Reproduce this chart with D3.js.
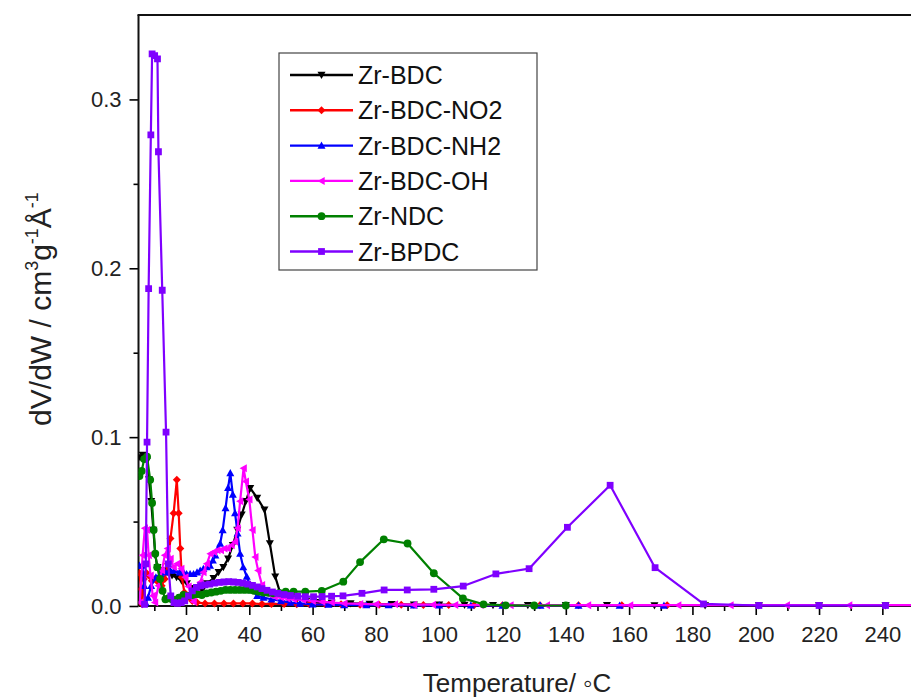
<!DOCTYPE html>
<html>
<head>
<meta charset="utf-8">
<script src="https://cdn.jsdelivr.net/npm/d3@7"></script>
<style>
  html, body { margin: 0; padding: 0; background: #fff; }
  svg { display: block; font-family: Arial, "Liberation Sans", sans-serif; }
</style>
</head>
<body>
<svg id="chart" width="911" height="698"></svg>
<script>
// Series names, colours and marker shapes
const seriesNames = ["Zr-BDC", "Zr-BDC-NO2", "Zr-BDC-NH2", "Zr-BDC-OH", "Zr-NDC", "Zr-BPDC"];
const seriesColors = ["#000000", "#ff0000", "#0000ff", "#ff00ff", "#008000", "#7f00ff"];

// [x, dV/dW] pairs for each series
const zrBDC = [
  [5.5,0.088],[6.3,0.0895],[7.0,0.088],[7.7,0.086],[8.3,0.075],[9.0,0.062],[9.7,0.045],[10.3,0.030],
  [11.0,0.023],[12.2,0.020],[13.2,0.021],[14.3,0.020],[15.6,0.018],[17.0,0.017],[18.6,0.015],[20.3,0.0134],
  [22.4,0.0105],[23.5,0.0085],[24.5,0.0085],[25.6,0.011],[26.6,0.0134],[28.7,0.0164],[30.3,0.020],[31.8,0.023],
  [33.3,0.028],[34.8,0.036],[36.2,0.045],[37.6,0.054],[38.9,0.062],[40.3,0.0698],[42.5,0.064],[44.8,0.057],
  [46.5,0.037],[48.2,0.0174],[49.8,0.0075],[52,0.005],[55,0.004],[58,0.003],[62,0.0022],[66,0.0018],
  [72,0.0015],[78,0.0012],[85,0.001],[92,0.0008],[100,0.0008],[108,0.0006],[117,0.0005],[128,0.0005],
  [140,0.0004],[153,0.0004],[168,0.0003],[184,0.0003],[201,0.0003],[220,0.0003],[241,0.0003]
];
const zrBDCNO2 = [
  [5.3,0.0195],[5.8,0.010],[6.2,0.001],[6.7,0.016],[7.5,0.0195],[8.3,0.018],[9.2,0.015],[10.2,0.016],
  [11.2,0.014],[12.3,0.012],[13.3,0.016],[14.3,0.025],[15.1,0.040],[16.1,0.055],[17.1,0.0747],[17.7,0.055],
  [18.2,0.034],[18.7,0.017],[19.5,0.008],[20.5,0.005],[22,0.003],[23.5,0.002],[26,0.0015],[29,0.0015],
  [32,0.0015],[35,0.0015],[38,0.0015],[41,0.0015],[44,0.0012],[47,0.0012],[51,0.0012],[55,0.001],
  [59,0.001],[64,0.001],[69,0.001],[75,0.0008],[81,0.0008],[88,0.0008],[95,0.0006],[103,0.0006],
  [111,0.0005],[120,0.0005],[131.8,0.0004],[144,0.0004],[157.7,0.0004],[172,0.0004]
];
const zrBDCNH2 = [
  [5.3,0.024],[6.2,0.024],[6.8,0.012],[7.2,0.002],[8.0,0.005],[9.0,0.012],[10.5,0.017],[12.0,0.019],
  [13.5,0.020],[15.0,0.021],[16.5,0.021],[18.0,0.020],[19.2,0.020],[20.2,0.019],[21.3,0.019],[22.4,0.019],
  [23.5,0.020],[24.5,0.021],[25.5,0.022],[26.6,0.023],[27.6,0.024],[28.5,0.027],[29.3,0.030],[30.1,0.034],
  [30.8,0.037],[31.6,0.045],[32.5,0.058],[33.3,0.070],[34.0,0.0787],[34.8,0.066],[35.5,0.055],[36.3,0.043],
  [37.1,0.031],[38.1,0.023],[39.2,0.0174],[40.8,0.0095],[42.5,0.006],[44.5,0.005],[47,0.004],[50,0.003],
  [53,0.002],[56,0.0015],[60,0.001],[65,0.0008],[70,0.0006],[77,0.0005],[84,0.0005],[92,0.0004],
  [100,0.0004],[110,0.0004],[120,0.0003],[132,0.0003],[144,0.0003],[157,0.0003],[171,0.0003]
];
const zrBDCOH = [
  [5.4,0.002],[6.3,0.030],[7.0,0.046],[7.7,0.045],[8.2,0.030],[8.8,0.018],[9.5,0.006],[10.2,0.002],
  [11.3,0.012],[12.4,0.021],[13.3,0.030],[14.2,0.034],[15.1,0.028],[16.1,0.023],[17.2,0.025],[18.5,0.022],
  [19.8,0.017],[20.8,0.0115],[21.7,0.005],[22.4,0.0025],[23.5,0.0075],[24.5,0.014],[25.5,0.020],[26.6,0.025],
  [27.7,0.031],[28.8,0.032],[29.9,0.033],[31.0,0.033],[32.1,0.034],[33.2,0.034],[34.4,0.036],[35.5,0.038],
  [36.3,0.046],[37.1,0.062],[38.2,0.0816],[38.9,0.0737],[40.0,0.063],[41.0,0.045],[41.9,0.029],[42.8,0.021],
  [44.0,0.0125],[45.2,0.0085],[46.5,0.0065],[48,0.0055],[50,0.005],[52,0.0045],[54,0.004],[57,0.0035],
  [60,0.003],[63,0.0025],[66,0.002],[70,0.0015],[75,0.0012],[80,0.001],[86,0.001],[92,0.0008],
  [98,0.0008],[105,0.0006],[113,0.0006],[122.5,0.0005],[134,0.0005],[147,0.0005],[160.3,0.0005],[175.5,0.0005],
  [192,0.0005],[209.8,0.0005],[229.5,0.0005],[250,0.0005]
];
const zrNDC = [
  [5.3,0.077],[6.0,0.080],[6.8,0.087],[7.7,0.0885],[8.7,0.0747],[9.3,0.061],[9.8,0.045],[10.3,0.031],
  [10.9,0.023],[11.8,0.016],[12.6,0.009],[13.5,0.004],[14.5,0.0046],[15.6,0.004],[16.6,0.0036],[17.8,0.005],
  [19.2,0.0065],[20.6,0.006],[22,0.0065],[23.5,0.007],[25,0.0065],[26.5,0.0075],[28,0.008],[29.5,0.0085],
  [31,0.009],[32.5,0.0095],[34,0.0095],[35.5,0.0095],[37,0.0095],[38.5,0.0095],[40,0.0095],[41.5,0.009],
  [43,0.0085],[44.5,0.008],[46,0.0078],[47.6,0.0075],[49.5,0.0078],[51.5,0.0085],[54,0.0085],[57.7,0.0085],
  [62.9,0.009],[69.7,0.0144],[75,0.026],[82.5,0.0395],[90,0.037],[98.3,0.0194],[107.5,0.0045],[114,0.001],
  [121,0.0004],[130,0.0003],[140,0.0003]
];
const zrBPDC = [
  [6.9,0.001],[7.3,0.025],[7.7,0.097],[8.2,0.188],[8.9,0.279],[9.3,0.327],[10.1,0.326],[11.0,0.324],
  [11.3,0.269],[12.5,0.187],[13.7,0.103],[14.4,0.025],[15.2,0.006],[16.2,0.002],[17.3,0.0015],[18.5,0.002],
  [19.6,0.003],[20.8,0.006],[22,0.009],[23.3,0.011],[24.6,0.012],[26,0.0125],[27.5,0.013],[29,0.0135],
  [30.5,0.014],[32,0.0142],[33.5,0.0144],[35,0.0142],[36.5,0.014],[38,0.0135],[39.5,0.013],[41,0.0122],
  [42.5,0.0113],[44,0.0103],[45.6,0.0093],[47.3,0.0083],[49,0.0075],[51,0.0068],[53,0.0062],[55.3,0.0058],
  [57.7,0.0055],[60.3,0.0055],[63,0.0056],[66,0.0058],[69.6,0.006],[75.6,0.0075],[82.6,0.0095],[89.9,0.0095],
  [98.3,0.0099],[107.6,0.0118],[117.9,0.019],[128.4,0.0221],[140.5,0.0466],[154,0.0715],[168.2,0.0227],[183.5,0.0012],
  [201,0.0003],[220,0.0003],[241,0.0003]
];
const seriesData = [zrBDC, zrBDCNO2, zrBDCNH2, zrBDCOH, zrNDC, zrBPDC];

// Axis ticks
const xMajorTicks = [20, 40, 60, 80, 100, 120, 140, 160, 180, 200, 220, 240];
const xMinorTicks = [10, 30, 50, 70, 90, 110, 130, 150, 170, 190, 210, 230, 250];
const yMajorTicks = [0.0, 0.1, 0.2, 0.3];
const yMinorTicks = [0.05, 0.15, 0.25];
const xDomain = [5, 250];
const yDomain = [0, 0.35];

const svg = d3.select("#chart");
const plotLeft = 138.5, plotTop = 15, plotRight = 914, plotBottom = 606;

const x = d3.scaleLinear().domain(xDomain).range([plotLeft, plotRight]);
const y = d3.scaleLinear().domain(yDomain).range([plotBottom, plotTop]);

// Marker symbols for each series
const markerTypes = ["tri-down", "diamond", "tri-up", "tri-left", "circle", "square"];
function markerPath(type, s) {
  const h = s / 2;
  switch (type) {
    case "tri-down": return `M${-h},${-h*0.8}L${h},${-h*0.8}L0,${h}Z`;
    case "tri-up": return `M${-h},${h*0.8}L${h},${h*0.8}L0,${-h}Z`;
    case "tri-left": return `M${h*0.8},${-h}L${h*0.8},${h}L${-h},0Z`;
    case "diamond": return `M0,${-h}L${h},0L0,${h}L${-h},0Z`;
    case "square": return `M${-h*0.85},${-h*0.85}H${h*0.85}V${h*0.85}H${-h*0.85}Z`;
    default: return d3.symbol(d3.symbolCircle, s * s * 0.75)();
  }
}
const markerSize = 8;

svg.append("defs").append("clipPath").attr("id", "plotClip")
  .append("rect").attr("x", plotLeft).attr("y", plotTop - 4)
  .attr("width", plotRight - plotLeft + 4).attr("height", plotBottom - plotTop + 8);

// Axes
const axisColor = "#000";
const xAxis = svg.append("g").attr("transform", `translate(0,${plotBottom})`)
  .call(d3.axisBottom(x).tickValues(xMajorTicks).tickSize(9).tickPadding(11).tickFormat(d3.format("d")));
const xMinor = svg.append("g").attr("transform", `translate(0,${plotBottom})`)
  .call(d3.axisBottom(x).tickValues(xMinorTicks).tickSize(5).tickFormat(""));
const yAxis = svg.append("g").attr("transform", `translate(${plotLeft},0)`)
  .call(d3.axisLeft(y).tickValues(yMajorTicks).tickSize(9).tickPadding(8).tickFormat(d3.format(".1f")));
const yMinor = svg.append("g").attr("transform", `translate(${plotLeft},0)`)
  .call(d3.axisLeft(y).tickValues(yMinorTicks).tickSize(5).tickFormat(""));

[xAxis, xMinor, yAxis, yMinor].forEach(a => {
  a.select(".domain").remove();
  a.selectAll("line").attr("stroke", axisColor).attr("stroke-width", 1.6);
  a.selectAll("text").attr("fill", "#222").style("font-size", "22px")
    .style("font-family", "Arial, 'Liberation Sans', sans-serif");
});

// Frame lines: left, bottom, top
svg.append("line").attr("x1", plotLeft).attr("x2", plotLeft).attr("y1", plotTop).attr("y2", plotBottom)
  .attr("stroke", "#111").attr("stroke-width", 2);
svg.append("line").attr("x1", plotLeft).attr("x2", 911).attr("y1", plotBottom).attr("y2", plotBottom)
  .attr("stroke", "#111").attr("stroke-width", 2);
svg.append("line").attr("x1", plotLeft - 1).attr("x2", 911).attr("y1", plotTop).attr("y2", plotTop)
  .attr("stroke", "#111").attr("stroke-width", 2);

// Series: lines with markers, drawn over the frame
const plot = svg.append("g").attr("clip-path", "url(#plotClip)");
const line = d3.line().x(d => x(d[0])).y(d => y(d[1]));

seriesData.forEach((data, i) => {
  const g = plot.append("g");
  g.append("path").datum(data)
    .attr("d", line)
    .attr("fill", "none")
    .attr("stroke", seriesColors[i])
    .attr("stroke-width", 2.2)
    .attr("stroke-linejoin", "round");
  g.selectAll("path.mk").data(data).join("path")
    .attr("class", "mk")
    .attr("transform", d => `translate(${x(d[0])},${y(d[1])})`)
    .attr("d", markerPath(markerTypes[i], markerSize))
    .attr("fill", seriesColors[i]);
});

// Axis titles
svg.append("text")
  .attr("x", 517).attr("y", 692)
  .attr("text-anchor", "middle")
  .attr("fill", "#222")
  .style("font-size", "26px")
  .text("Temperature/ \u25E6C");

const yTitle = svg.append("text")
  .attr("transform", "translate(51,309) rotate(-90)")
  .attr("text-anchor", "middle")
  .attr("fill", "#222")
  .style("font-size", "30px");
yTitle.append("tspan").text("dV/dW / cm");
yTitle.append("tspan").attr("dy", -13).style("font-size", "18px").text("3");
yTitle.append("tspan").attr("dy", 13).text("g");
yTitle.append("tspan").attr("dy", -13).style("font-size", "18px").text("-1");
yTitle.append("tspan").attr("dy", 13).text("Å");
yTitle.append("tspan").attr("dy", -13).style("font-size", "18px").text("-1");

// Legend
const legend = svg.append("g");
legend.append("rect")
  .attr("x", 279).attr("y", 53).attr("width", 258).attr("height", 217)
  .attr("fill", "#fff").attr("stroke", "#444").attr("stroke-width", 1.2);
seriesNames.forEach((name, i) => {
  const ly = 75 + i * 35.3;
  legend.append("line").attr("x1", 290).attr("x2", 353).attr("y1", ly).attr("y2", ly)
    .attr("stroke", seriesColors[i]).attr("stroke-width", 2.4);
  legend.append("path").attr("transform", `translate(321.5,${ly})`)
    .attr("d", markerPath(markerTypes[i], markerSize)).attr("fill", seriesColors[i]);
  legend.append("text").attr("x", 358).attr("y", ly + 9)
    .attr("fill", "#111").style("font-size", "25px").text(name);
});
</script>
</body>
</html>
